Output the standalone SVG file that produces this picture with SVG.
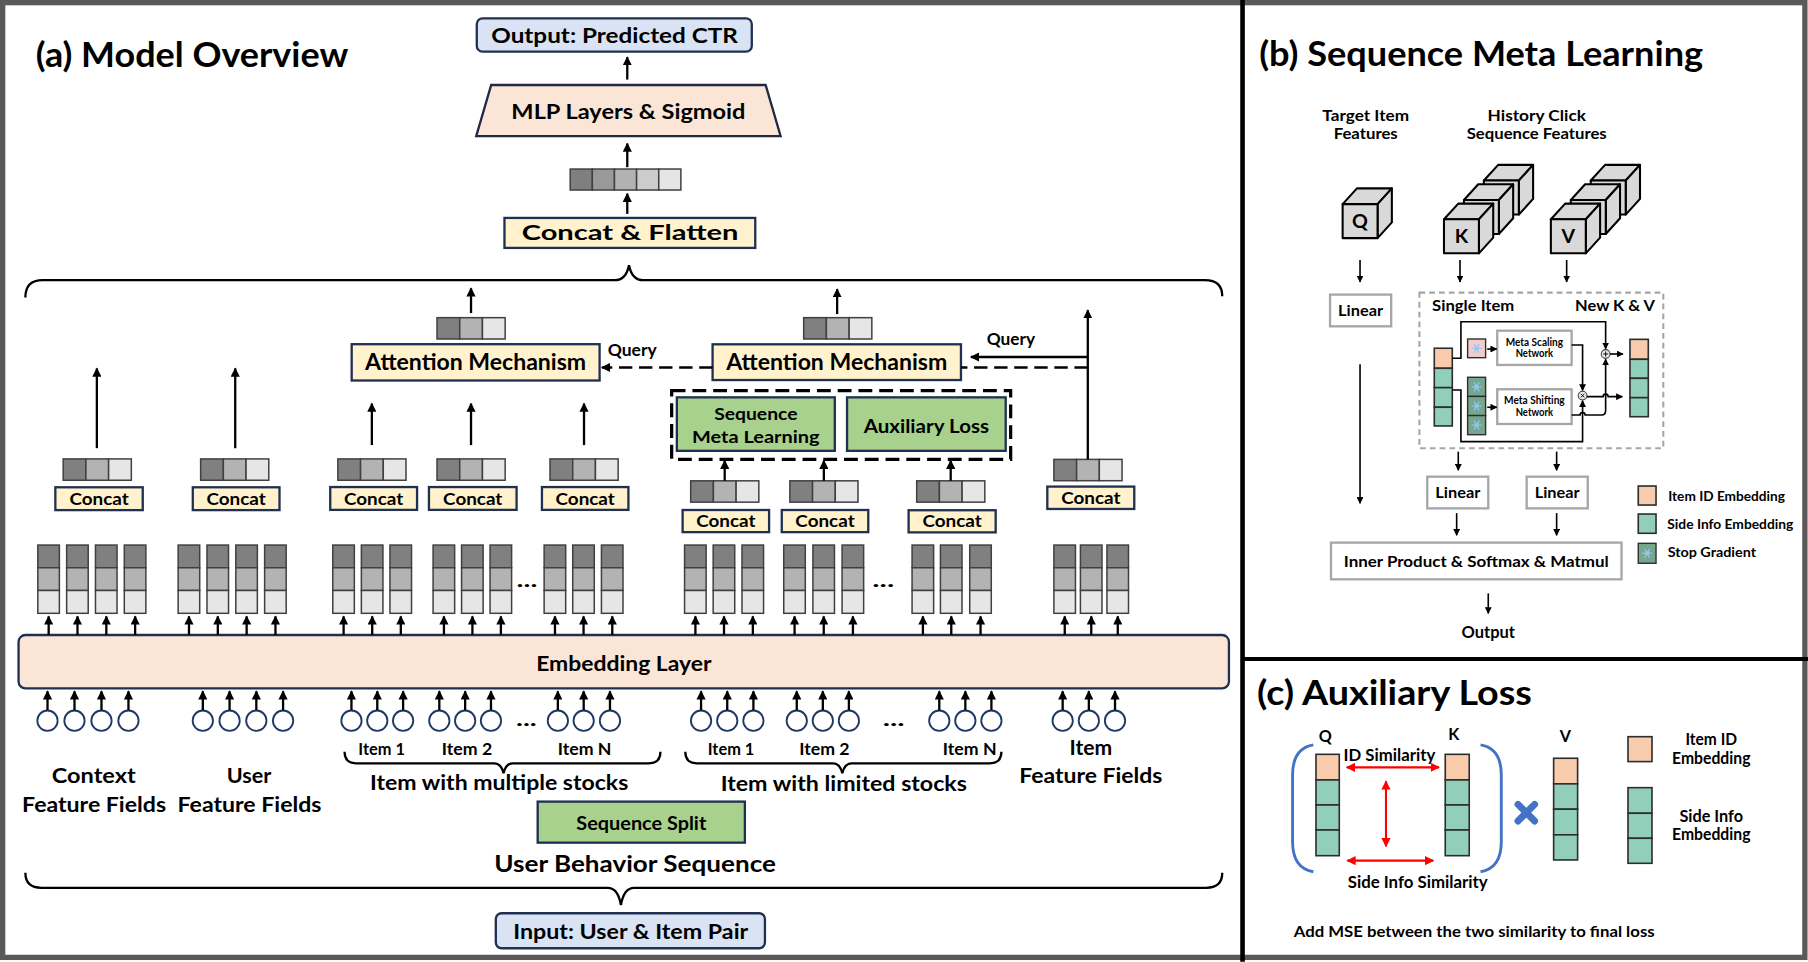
<svg xmlns="http://www.w3.org/2000/svg" xmlns:xlink="http://www.w3.org/1999/xlink" width="1808" height="962" viewBox="0 0 1808 962">
<style>
.t{font-family:Lato,"Open Sans","DejaVu Sans",sans-serif;font-weight:700;fill:#000;text-anchor:middle}
.ts{text-anchor:start}
.ln{stroke:#000;stroke-width:2;fill:none}
.lb{stroke:#000;stroke-width:1.4;fill:none}
.cc{fill:#fff2cc;stroke:#1f3050;stroke-width:2}
.gr{fill:#a9d18e;stroke:#1f3050;stroke-width:2}
.c1{fill:#808080;stroke:#404040;stroke-width:1.3}
.c2{fill:#b3b3b3;stroke:#404040;stroke-width:1.3}
.c3{fill:#e6e6e6;stroke:#404040;stroke-width:1.3}
.cir{fill:#fff;stroke:#1f3864;stroke-width:1.6}
.gb{fill:#fff;stroke:#a6a6a6;stroke-width:2}
.or{fill:#f8cbad;stroke:#2d2d2d;stroke-width:1.4}
.te{fill:#92cfbb;stroke:#2d2d2d;stroke-width:1.4}
.sg{fill:#76a68e;stroke:#2d2d2d;stroke-width:1.2}
.cube{fill:#d9d9d9;stroke:#000;stroke-width:1.8;stroke-linejoin:round}
.red{stroke:#ff0000;stroke-width:1.8;fill:none}
.up{stroke:#000;stroke-width:2;fill:none;marker-end:url(#ah)}
</style>
<defs>
<marker id="ah" viewBox="0 0 10 10" refX="9" refY="5" markerWidth="8" markerHeight="8" markerUnits="userSpaceOnUse" orient="auto"><path d="M0,0 L10,5 L0,10 z" fill="#000"/></marker>
<marker id="ahs" viewBox="0 0 10 10" refX="9" refY="5" markerWidth="6" markerHeight="6" markerUnits="userSpaceOnUse" orient="auto"><path d="M0,0 L10,5 L0,10 z" fill="#000"/></marker>
<marker id="ahr" viewBox="0 0 10 10" refX="9" refY="5" markerWidth="8" markerHeight="8" markerUnits="userSpaceOnUse" orient="auto-start-reverse"><path d="M0,0 L10,5 L0,10 z" fill="#ff0000"/></marker>
<g id="col"><rect class="c1" x="0" y="0" width="18.7" height="19.7"/><rect class="c2" x="0" y="19.7" width="18.7" height="19.7"/><rect class="c3" x="0" y="39.4" width="18.7" height="19.8"/></g>
<g id="v3"><rect class="c1" x="0" y="0" width="19.7" height="18.5"/><rect class="c2" x="19.7" y="0" width="19.7" height="18.5"/><rect class="c3" x="39.4" y="0" width="19.7" height="18.5"/></g>
<g id="cube"><polygon class="cube" points="0,0 12.4,-13.6 42.7,-13.6 30.3,0"/><polygon class="cube" points="30.3,0 42.7,-13.6 42.7,15.9 30.3,29.5"/><rect class="cube" x="0" y="0" width="30.3" height="29.5"/></g>
<g id="snow" stroke="#8fc9f2" stroke-width="1" fill="none"><line x1="-4.5" y1="0" x2="4.5" y2="0"/><line x1="-2.25" y1="-3.9" x2="2.25" y2="3.9"/><line x1="2.25" y1="-3.9" x2="-2.25" y2="3.9"/><circle r="1.4"/></g>
<path id="upE" d="M0 0 V-16.2"/>
</defs>
<rect x="0" y="0" width="1808" height="962" fill="#fff"/>
<g transform="scale(1.153061)">
<g id="frame">
<rect x="2.3" y="2.3" width="1563" height="828" fill="none" stroke="#595959" stroke-width="4.6"/>
<line x1="1077.6" y1="0" x2="1077.6" y2="834" stroke="#000" stroke-width="4"/>
<line x1="1077" y1="571.5" x2="1568" y2="571.5" stroke="#000" stroke-width="3.5"/>
</g>

<!-- ================= (a) ================= -->
<text class="t ts" x="31" y="57.8" font-size="30" textLength="271" lengthAdjust="spacingAndGlyphs">(a) Model Overview</text>

<g id="output">
<rect x="413.5" y="15.9" width="238.5" height="28.9" rx="5" fill="#dae3f3" stroke="#1f3050" stroke-width="2"/>
<text class="t" x="533" y="37" font-size="17.5" textLength="214" lengthAdjust="spacingAndGlyphs">Output: Predicted CTR</text>
</g>
<g id="mlp">
<polygon points="426,73.7 664,73.7 677,118 413,118" fill="#fbe5d6" stroke="#1f2a44" stroke-width="2"/>
<text class="t" x="545" y="103.5" font-size="18" textLength="203" lengthAdjust="spacingAndGlyphs">MLP Layers &amp; Sigmoid</text>
</g>
<g id="flat-vector">
<rect x="494.5" y="146.6" width="19.2" height="18.2" fill="#7f7f7f" stroke="#404040" stroke-width="1.3"/>
<rect x="513.7" y="146.6" width="19.2" height="18.2" fill="#999999" stroke="#404040" stroke-width="1.3"/>
<rect x="532.9" y="146.6" width="19.2" height="18.2" fill="#b2b2b2" stroke="#404040" stroke-width="1.3"/>
<rect x="552.1" y="146.6" width="19.2" height="18.2" fill="#cccccc" stroke="#404040" stroke-width="1.3"/>
<rect x="571.3" y="146.6" width="19.2" height="18.2" fill="#e5e5e5" stroke="#404040" stroke-width="1.3"/>
</g>
<g id="concat-flatten">
<rect class="cc" x="437.5" y="189" width="217.5" height="26"/>
<text class="t" x="546.5" y="208.5" font-size="18" textLength="188" lengthAdjust="spacingAndGlyphs">Concat &amp; Flatten</text>
</g>

<g id="attention-left">
<rect class="cc" x="305" y="298.5" width="215" height="31.5"/>
<text class="t" x="412.5" y="321" font-size="19" textLength="191.7" lengthAdjust="spacingAndGlyphs">Attention Mechanism</text>
</g>
<g id="attention-right">
<rect class="cc" x="618" y="298.6" width="215.4" height="31"/>
<text class="t" x="725.7" y="321" font-size="19" textLength="191.7" lengthAdjust="spacingAndGlyphs">Attention Mechanism</text>
</g>
<g id="attn-vectors">
<use href="#v3" x="379" y="275.5"/>
<use href="#v3" x="697" y="275.5"/>
</g>
<text class="t ts" x="527" y="308.8" font-size="14.5" textLength="42.5" lengthAdjust="spacingAndGlyphs">Query</text>
<text class="t ts" x="855.7" y="299.2" font-size="14.5" textLength="42" lengthAdjust="spacingAndGlyphs">Query</text>

<g id="meta-modules">
<rect x="582.5" y="338.8" width="294" height="59.5" fill="none" stroke="#000" stroke-width="2.8" stroke-dasharray="12 6"/>
<g id="seq-meta-learning">
<rect class="gr" x="587" y="344.6" width="137" height="46.4"/>
<text class="t" x="655.5" y="364.3" font-size="15.5" textLength="72.3" lengthAdjust="spacingAndGlyphs">Sequence</text>
<text class="t" x="655.5" y="384" font-size="15.5" textLength="110.7" lengthAdjust="spacingAndGlyphs">Meta Learning</text>
</g>
<g id="auxiliary-loss">
<rect class="gr" x="734.6" y="344.6" width="137.6" height="46.4"/>
<text class="t" x="803.4" y="375.3" font-size="16" textLength="108.7" lengthAdjust="spacingAndGlyphs">Auxiliary Loss</text>
</g>
</g>

<g id="concat-context"><use href="#v3" x="54.8" y="398"/><rect class="cc" x="48" y="422.6" width="75.8" height="19.8"/><text class="t" x="85.9" y="437.8" font-size="14.5" textLength="51.4" lengthAdjust="spacingAndGlyphs">Concat</text></g>
<g id="concat-user"><use href="#v3" x="174" y="398"/><rect class="cc" x="167.2" y="422.6" width="75.2" height="19.8"/><text class="t" x="204.8" y="437.8" font-size="14.5" textLength="51.4" lengthAdjust="spacingAndGlyphs">Concat</text></g>
<g id="concat-multi-1"><use href="#v3" x="293" y="398"/><rect class="cc" x="286.4" y="422.4" width="75.3" height="19.8"/><text class="t" x="324" y="437.6" font-size="14.5" textLength="51.4" lengthAdjust="spacingAndGlyphs">Concat</text></g>
<g id="concat-multi-2"><use href="#v3" x="379" y="398"/><rect class="cc" x="372" y="422.4" width="76" height="19.8"/><text class="t" x="410" y="437.6" font-size="14.5" textLength="51.4" lengthAdjust="spacingAndGlyphs">Concat</text></g>
<g id="concat-multi-n"><use href="#v3" x="477" y="398"/><rect class="cc" x="470" y="422.4" width="75" height="19.8"/><text class="t" x="507.5" y="437.6" font-size="14.5" textLength="51.4" lengthAdjust="spacingAndGlyphs">Concat</text></g>
<g id="concat-limited-1"><use href="#v3" x="599" y="417"/><rect class="cc" x="592" y="442.3" width="75" height="19.2"/><text class="t" x="629.5" y="457.2" font-size="14.5" textLength="51.4" lengthAdjust="spacingAndGlyphs">Concat</text></g>
<g id="concat-limited-2"><use href="#v3" x="685" y="417"/><rect class="cc" x="678" y="442.3" width="75" height="19.2"/><text class="t" x="715.5" y="457.2" font-size="14.5" textLength="51.4" lengthAdjust="spacingAndGlyphs">Concat</text></g>
<g id="concat-limited-n"><use href="#v3" x="795" y="417"/><rect class="cc" x="788" y="442.5" width="75.5" height="19.2"/><text class="t" x="825.7" y="457.4" font-size="14.5" textLength="51.4" lengthAdjust="spacingAndGlyphs">Concat</text></g>
<g id="concat-item"><use href="#v3" x="914" y="398.4"/><rect class="cc" x="908.3" y="422" width="75.4" height="19.4"/><text class="t" x="946" y="437" font-size="14.5" textLength="51.4" lengthAdjust="spacingAndGlyphs">Concat</text></g>

<g id="emb-columns">
<use href="#col" x="32.8" y="472.7"/><use href="#col" x="57.8" y="472.7"/><use href="#col" x="82.8" y="472.7"/><use href="#col" x="107.8" y="472.7"/>
<use href="#col" x="154.5" y="472.7"/><use href="#col" x="179.5" y="472.7"/><use href="#col" x="204.5" y="472.7"/><use href="#col" x="229.5" y="472.7"/>
<use href="#col" x="288.6" y="472.7"/><use href="#col" x="313.4" y="472.7"/><use href="#col" x="338.2" y="472.7"/>
<use href="#col" x="375.6" y="472.7"/><use href="#col" x="400.3" y="472.7"/><use href="#col" x="425" y="472.7"/>
<use href="#col" x="471.9" y="472.7"/><use href="#col" x="496.7" y="472.7"/><use href="#col" x="521.6" y="472.7"/>
<use href="#col" x="593.7" y="472.7"/><use href="#col" x="618.5" y="472.7"/><use href="#col" x="643.5" y="472.7"/>
<use href="#col" x="679.7" y="472.7"/><use href="#col" x="705" y="472.7"/><use href="#col" x="730.3" y="472.7"/>
<use href="#col" x="791" y="472.7"/><use href="#col" x="815.6" y="472.7"/><use href="#col" x="841" y="472.7"/>
<use href="#col" x="914" y="472.7"/><use href="#col" x="937" y="472.7"/><use href="#col" x="960" y="472.7"/>
</g>
<text class="t" x="457" y="509" font-size="16" textLength="18" lengthAdjust="spacingAndGlyphs">...</text>
<text class="t" x="766" y="509" font-size="16" textLength="19" lengthAdjust="spacingAndGlyphs">...</text>

<g id="embedding-layer">
<rect x="16.1" y="550.7" width="1049.7" height="46.3" rx="6" fill="#fbe5d6" stroke="#1f3050" stroke-width="2"/>
<text class="t" x="541" y="582" font-size="18" textLength="152" lengthAdjust="spacingAndGlyphs">Embedding Layer</text>
</g>

<g id="feature-circles">
<circle class="cir" cx="41.2" cy="625" r="8.8"/><circle class="cir" cx="64.6" cy="625" r="8.8"/><circle class="cir" cx="88" cy="625" r="8.8"/><circle class="cir" cx="111.4" cy="625" r="8.8"/>
<circle class="cir" cx="175.9" cy="625" r="8.8"/><circle class="cir" cx="199.1" cy="625" r="8.8"/><circle class="cir" cx="222.3" cy="625" r="8.8"/><circle class="cir" cx="245.5" cy="625" r="8.8"/>
<circle class="cir" cx="304.8" cy="625" r="8.8"/><circle class="cir" cx="327.2" cy="625" r="8.8"/><circle class="cir" cx="349.6" cy="625" r="8.8"/>
<circle class="cir" cx="381" cy="625" r="8.8"/><circle class="cir" cx="403.4" cy="625" r="8.8"/><circle class="cir" cx="425.8" cy="625" r="8.8"/>
<circle class="cir" cx="483.8" cy="625" r="8.8"/><circle class="cir" cx="506.2" cy="625" r="8.8"/><circle class="cir" cx="529" cy="625" r="8.8"/>
<circle class="cir" cx="608" cy="625" r="8.8"/><circle class="cir" cx="630.7" cy="625" r="8.8"/><circle class="cir" cx="653.4" cy="625" r="8.8"/>
<circle class="cir" cx="691" cy="625" r="8.8"/><circle class="cir" cx="713.6" cy="625" r="8.8"/><circle class="cir" cx="736.2" cy="625" r="8.8"/>
<circle class="cir" cx="814.6" cy="625" r="8.8"/><circle class="cir" cx="837.2" cy="625" r="8.8"/><circle class="cir" cx="859.8" cy="625" r="8.8"/>
<circle class="cir" cx="921.6" cy="625" r="8.8"/><circle class="cir" cx="944.3" cy="625" r="8.8"/><circle class="cir" cx="967" cy="625" r="8.8"/>
</g>
<text class="t" x="456.5" y="630" font-size="16" textLength="18" lengthAdjust="spacingAndGlyphs">...</text>
<text class="t" x="775" y="630" font-size="16" textLength="19" lengthAdjust="spacingAndGlyphs">...</text>

<g id="item-labels">
<text class="t" x="331" y="654.7" font-size="14.5" textLength="40.4" lengthAdjust="spacingAndGlyphs">Item 1</text>
<text class="t" x="405" y="654.7" font-size="14.5" textLength="43.7" lengthAdjust="spacingAndGlyphs">Item 2</text>
<text class="t" x="507" y="654.7" font-size="14.5" textLength="46.6" lengthAdjust="spacingAndGlyphs">Item N</text>
<text class="t" x="634" y="654.7" font-size="14.5" textLength="40.4" lengthAdjust="spacingAndGlyphs">Item 1</text>
<text class="t" x="715" y="654.7" font-size="14.5" textLength="43.7" lengthAdjust="spacingAndGlyphs">Item 2</text>
<text class="t" x="841" y="654.7" font-size="14.5" textLength="46.6" lengthAdjust="spacingAndGlyphs">Item N</text>
</g>
<g id="group-labels">
<text class="t" x="432.9" y="685" font-size="18" textLength="224" lengthAdjust="spacingAndGlyphs">Item with multiple stocks</text>
<text class="t" x="731.8" y="686" font-size="18" textLength="213.6" lengthAdjust="spacingAndGlyphs">Item with limited stocks</text>
<text class="t" x="81.3" y="679.3" font-size="18" textLength="72.8" lengthAdjust="spacingAndGlyphs">Context</text>
<text class="t" x="81.6" y="704" font-size="18" textLength="124.8" lengthAdjust="spacingAndGlyphs">Feature Fields</text>
<text class="t" x="216" y="679.3" font-size="18" textLength="38.7" lengthAdjust="spacingAndGlyphs">User</text>
<text class="t" x="216.4" y="704" font-size="18" textLength="124.8" lengthAdjust="spacingAndGlyphs">Feature Fields</text>
<text class="t" x="946" y="655" font-size="18" textLength="37" lengthAdjust="spacingAndGlyphs">Item</text>
<text class="t" x="946" y="679.3" font-size="18" textLength="124" lengthAdjust="spacingAndGlyphs">Feature Fields</text>
</g>

<g id="sequence-split">
<rect class="gr" x="466.3" y="695.2" width="179.7" height="35.6"/>
<text class="t" x="556.2" y="719.5" font-size="16" textLength="112.7" lengthAdjust="spacingAndGlyphs">Sequence Split</text>
</g>
<text class="t" x="550.8" y="756" font-size="20" textLength="244.3" lengthAdjust="spacingAndGlyphs">User Behavior Sequence</text>

<g id="input">
<rect x="430" y="792" width="233.4" height="30.4" rx="5" fill="#dae3f3" stroke="#1f3050" stroke-width="2"/>
<text class="t" x="547" y="814.5" font-size="18" textLength="203.8" lengthAdjust="spacingAndGlyphs">Input: User &amp; Item Pair</text>
</g>

<g id="connectors">
<path class="ln" d="M544 69 V49.5" marker-end="url(#ah)"/>
<path class="ln" d="M544 145 V124.5" marker-end="url(#ah)"/>
<path class="ln" d="M544 185.5 V168" marker-end="url(#ah)"/>
<path class="ln" d="M22 258 Q22 243 37 243 L533 243 Q543 243 545.5 230 Q548 243 558 243 L1045 243 Q1060 243 1060 257"/>
<path class="ln" d="M22 757 Q22 770 36 770 L527 770 Q536 770 538.5 785 Q541 770 550 770 L1046 770 Q1060 770 1060 757"/>
<path class="ln" stroke-width="1.8" d="M298.8 652 Q298.8 662 308.8 662 L428.7 662 Q434.7 662 436.7 670.6 Q438.7 662 444.7 662 L562.8 662 Q572.8 662 572.8 652"/>
<path class="ln" stroke-width="1.8" d="M594.3 652 Q594.3 662 604.3 662 L722.5 662 Q728.5 662 730.5 670.6 Q732.5 662 738.5 662 L858.5 662 Q868.5 662 868.5 652"/>
<path class="ln" d="M84 388.7 V319.5" marker-end="url(#ah)"/>
<path class="ln" d="M204 388.7 V319.5" marker-end="url(#ah)"/>
<path class="ln" d="M408.5 271.5 V250" marker-end="url(#ah)"/>
<path class="ln" d="M726 272.4 V250.8" marker-end="url(#ah)"/>
<path class="ln" d="M322.5 386 V350" marker-end="url(#ah)"/>
<path class="ln" d="M408.5 386 V350" marker-end="url(#ah)"/>
<path class="ln" d="M506.5 386 V350" marker-end="url(#ah)"/>
<path class="ln" d="M628.5 417 V399.5" marker-end="url(#ah)"/>
<path class="ln" d="M714.5 417 V399.5" marker-end="url(#ah)"/>
<path class="ln" d="M824.5 417 V399.5" marker-end="url(#ah)"/>
<path class="ln" d="M943.4 398.4 V269" marker-end="url(#ah)"/>
<path class="ln" d="M943.4 309.6 H842" marker-end="url(#ah)"/>
<path class="ln" stroke-width="2.3" stroke-dasharray="11.6 5.8" d="M943.4 318.7 H833.4"/>
<path class="ln" stroke-width="2.3" stroke-dasharray="11.6 5.8" d="M618 318.7 H522" marker-end="url(#ah)"/>
<g id="emb-arrows">
<path class="up" d="M42.2 550.7V534.5"/><path class="up" d="M67.2 550.7V534.5"/><path class="up" d="M92.2 550.7V534.5"/><path class="up" d="M117.2 550.7V534.5"/>
<path class="up" d="M163.9 550.7V534.5"/><path class="up" d="M188.9 550.7V534.5"/><path class="up" d="M213.9 550.7V534.5"/><path class="up" d="M238.9 550.7V534.5"/>
<path class="up" d="M298 550.7V534.5"/><path class="up" d="M322.8 550.7V534.5"/><path class="up" d="M347.6 550.7V534.5"/>
<path class="up" d="M385 550.7V534.5"/><path class="up" d="M409.7 550.7V534.5"/><path class="up" d="M434.4 550.7V534.5"/>
<path class="up" d="M481.3 550.7V534.5"/><path class="up" d="M506.1 550.7V534.5"/><path class="up" d="M531 550.7V534.5"/>
<path class="up" d="M603.1 550.7V534.5"/><path class="up" d="M627.9 550.7V534.5"/><path class="up" d="M652.9 550.7V534.5"/>
<path class="up" d="M689.1 550.7V534.5"/><path class="up" d="M714.4 550.7V534.5"/><path class="up" d="M739.7 550.7V534.5"/>
<path class="up" d="M800.4 550.7V534.5"/><path class="up" d="M825 550.7V534.5"/><path class="up" d="M850.4 550.7V534.5"/>
<path class="up" d="M923.4 550.7V534.5"/><path class="up" d="M946.4 550.7V534.5"/><path class="up" d="M969.4 550.7V534.5"/>
</g>
<g id="input-arrows">
<path class="up" d="M41.2 616V599.5"/><path class="up" d="M64.6 616V599.5"/><path class="up" d="M88 616V599.5"/><path class="up" d="M111.4 616V599.5"/>
<path class="up" d="M175.9 616V599.5"/><path class="up" d="M199.1 616V599.5"/><path class="up" d="M222.3 616V599.5"/><path class="up" d="M245.5 616V599.5"/>
<path class="up" d="M304.8 616V599.5"/><path class="up" d="M327.2 616V599.5"/><path class="up" d="M349.6 616V599.5"/>
<path class="up" d="M381 616V599.5"/><path class="up" d="M403.4 616V599.5"/><path class="up" d="M425.8 616V599.5"/>
<path class="up" d="M483.8 616V599.5"/><path class="up" d="M506.2 616V599.5"/><path class="up" d="M529 616V599.5"/>
<path class="up" d="M608 616V599.5"/><path class="up" d="M630.7 616V599.5"/><path class="up" d="M653.4 616V599.5"/>
<path class="up" d="M691 616V599.5"/><path class="up" d="M713.6 616V599.5"/><path class="up" d="M736.2 616V599.5"/>
<path class="up" d="M814.6 616V599.5"/><path class="up" d="M837.2 616V599.5"/><path class="up" d="M859.8 616V599.5"/>
<path class="up" d="M921.6 616V599.5"/><path class="up" d="M944.3 616V599.5"/><path class="up" d="M967 616V599.5"/>
</g>
</g>

<!-- ================= (b) ================= -->
<text class="t ts" x="1092" y="57" font-size="30" textLength="385" lengthAdjust="spacingAndGlyphs">(b) Sequence Meta Learning</text>
<g id="b-labels">
<text class="t" x="1184.4" y="104.7" font-size="13" textLength="75.2" lengthAdjust="spacingAndGlyphs">Target Item</text>
<text class="t" x="1184.4" y="120.8" font-size="13" textLength="55.5" lengthAdjust="spacingAndGlyphs">Features</text>
<text class="t" x="1332.8" y="104.7" font-size="13" textLength="85.3" lengthAdjust="spacingAndGlyphs">History Click</text>
<text class="t" x="1332.7" y="120.8" font-size="13" textLength="121.4" lengthAdjust="spacingAndGlyphs">Sequence Features</text>
</g>
<g id="cube-q">
<use href="#cube" x="1164.4" y="177"/>
<text class="t" x="1179.5" y="198" font-size="17">Q</text>
</g>
<g id="cube-k">
<use href="#cube" x="1286.9" y="156.6"/><use href="#cube" x="1269.6" y="173.4"/><use href="#cube" x="1252.3" y="190.2"/>
<text class="t" x="1267.5" y="211" font-size="17">K</text>
</g>
<g id="cube-v">
<use href="#cube" x="1379.6" y="156.6"/><use href="#cube" x="1362.3" y="173.4"/><use href="#cube" x="1345" y="190.2"/>
<text class="t" x="1360.2" y="211" font-size="17">V</text>
</g>
<g id="linear-q">
<rect class="gb" x="1153.5" y="255.5" width="53" height="27.5"/>
<text class="t" x="1180" y="274" font-size="13.5" textLength="39" lengthAdjust="spacingAndGlyphs">Linear</text>
</g>
<g id="meta-block">
<rect x="1231" y="253.8" width="211.5" height="135" fill="none" stroke="#a6a6a6" stroke-width="1.8" stroke-dasharray="5 3.5"/>
<text class="t ts" x="1242" y="269.4" font-size="13.5" textLength="71.3" lengthAdjust="spacingAndGlyphs">Single Item</text>
<text class="t ts" x="1366" y="269.4" font-size="13.5" textLength="69.3" lengthAdjust="spacingAndGlyphs">New K &amp; V</text>
<g id="single-emb">
<rect class="or" x="1243.9" y="302" width="15.6" height="17.4"/>
<rect class="te" x="1243.9" y="319.4" width="15.6" height="16.8"/>
<rect class="te" x="1243.9" y="336.2" width="15.6" height="17"/>
<rect class="te" x="1243.9" y="353.2" width="15.6" height="16.2"/>
</g>
<g id="new-emb">
<rect class="or" x="1413.6" y="294.3" width="15.9" height="17.3"/>
<rect class="te" x="1413.6" y="311.6" width="15.9" height="16.5"/>
<rect class="te" x="1413.6" y="328.1" width="15.9" height="16.8"/>
<rect class="te" x="1413.6" y="344.9" width="15.9" height="16.5"/>
</g>
<g id="sg-id">
<rect x="1272.8" y="294" width="15.6" height="16.2" fill="#f4cccc" stroke="#2d2d2d" stroke-width="1.2"/>
<use href="#snow" x="1280.6" y="302.1"/>
</g>
<g id="sg-side">
<rect class="sg" x="1272.8" y="327.2" width="15.6" height="16.6"/>
<rect class="sg" x="1272.8" y="343.8" width="15.6" height="16.6"/>
<rect class="sg" x="1272.8" y="360.4" width="15.6" height="16.6"/>
<use href="#snow" x="1280.6" y="335.5"/><use href="#snow" x="1280.6" y="352.1"/><use href="#snow" x="1280.6" y="368.7"/>
</g>
<g id="meta-scaling">
<rect class="gb" stroke-width="1.7" x="1298.5" y="286.8" width="64.5" height="29.7"/>
<text class="t" x="1330.7" y="299.8" font-size="9.5" textLength="49.7" lengthAdjust="spacingAndGlyphs">Meta Scaling</text>
<text class="t" x="1330.7" y="309.9" font-size="9.5" textLength="32.4" lengthAdjust="spacingAndGlyphs">Network</text>
</g>
<g id="meta-shifting">
<rect class="gb" stroke-width="1.7" x="1298.5" y="337.6" width="64.5" height="30.1"/>
<text class="t" x="1330.7" y="350.4" font-size="9.5" textLength="52.6" lengthAdjust="spacingAndGlyphs">Meta Shifting</text>
<text class="t" x="1330.7" y="360.8" font-size="9.5" textLength="32.4" lengthAdjust="spacingAndGlyphs">Network</text>
</g>
<g id="op-plus">
<circle cx="1392.5" cy="307" r="3.8" fill="#e7e6e6" stroke="#404040" stroke-width="0.9"/>
<path d="M1390.3 307H1394.7M1392.5 304.8V309.2" stroke="#000" stroke-width="0.8"/>
</g>
<g id="op-times">
<circle cx="1372.5" cy="343.1" r="3.8" fill="#e7e6e6" stroke="#404040" stroke-width="0.9"/>
<path d="M1371 341.6L1374 344.6M1374 341.6L1371 344.6" stroke="#000" stroke-width="0.8"/>
</g>
<g id="meta-connectors">
<path class="lb" d="M1259.5 310.7 H1267 V279 H1392.5 V302.5" marker-end="url(#ahs)"/>
<path class="lb" d="M1289.8 302.7 H1298" marker-end="url(#ahs)"/>
<path class="lb" d="M1363 299.2 H1372.5 V338.6" marker-end="url(#ahs)"/>
<path class="lb" d="M1289.8 353.2 H1298" marker-end="url(#ahs)"/>
<path class="lb" d="M1259.5 338.2 H1267 V383 H1372.5 V347.6" marker-end="url(#ahs)"/>
<path class="lb" d="M1376.3 344 H1390.3 A2.2 2.2 0 0 1 1394.7 344 H1407" marker-end="url(#ahs)"/>
<path class="lb" d="M1363 359.9 H1370.3 A2.2 2.2 0 0 1 1374.7 359.9 H1389 Q1392.5 359.9 1392.5 356 V311.5" marker-end="url(#ahs)"/>
<path class="lb" d="M1396.3 307 H1407.5" marker-end="url(#ahs)"/>
</g>
</g>
<g id="linear-k">
<rect class="gb" x="1237.8" y="413.4" width="52.9" height="27.5"/>
<text class="t" x="1264.3" y="432" font-size="13.5" textLength="39" lengthAdjust="spacingAndGlyphs">Linear</text>
</g>
<g id="linear-v">
<rect class="gb" x="1324" y="413.4" width="53" height="27.5"/>
<text class="t" x="1350.5" y="432" font-size="13.5" textLength="39" lengthAdjust="spacingAndGlyphs">Linear</text>
</g>
<g id="inner-product">
<rect class="gb" x="1154.3" y="470.6" width="252" height="31.8"/>
<text class="t" x="1280.3" y="491.4" font-size="13.5" textLength="229.8" lengthAdjust="spacingAndGlyphs">Inner Product &amp; Softmax &amp; Matmul</text>
</g>
<text class="t" x="1290.7" y="553.6" font-size="14" textLength="46.3" lengthAdjust="spacingAndGlyphs">Output</text>
<g id="b-connectors">
<path class="lb" d="M1179.5 225.5 V244.5" marker-end="url(#ahs)"/>
<path class="lb" d="M1266.2 225.5 V244.5" marker-end="url(#ahs)"/>
<path class="lb" d="M1358.7 225.5 V244.5" marker-end="url(#ahs)"/>
<path class="lb" d="M1179.5 316 V436.5" marker-end="url(#ahs)"/>
<path class="lb" d="M1264.7 391.7 V407.8" marker-end="url(#ahs)"/>
<path class="lb" d="M1350 391.7 V407.8" marker-end="url(#ahs)"/>
<path class="lb" d="M1263.3 445 V464.2" marker-end="url(#ahs)"/>
<path class="lb" d="M1350 445 V464.2" marker-end="url(#ahs)"/>
<path class="lb" d="M1290.7 514.6 V532" marker-end="url(#ahs)"/>
</g>
<g id="b-legend">
<rect class="or" x="1420.8" y="421.5" width="15.4" height="16.5"/>
<text class="t ts" x="1446.8" y="434.5" font-size="12" textLength="101.2" lengthAdjust="spacingAndGlyphs">Item ID Embedding</text>
<rect class="te" x="1420.8" y="445.8" width="15.4" height="16.7"/>
<text class="t ts" x="1446" y="459" font-size="12" textLength="109.3" lengthAdjust="spacingAndGlyphs">Side Info Embedding</text>
<rect class="sg" x="1420.8" y="471.2" width="15.4" height="17.3"/>
<use href="#snow" x="1428.5" y="479.8"/>
<text class="t ts" x="1446.3" y="483.3" font-size="12" textLength="76.6" lengthAdjust="spacingAndGlyphs">Stop Gradient</text>
</g>

<!-- ================= (c) ================= -->
<text class="t ts" x="1090.1" y="611.4" font-size="30" textLength="238.5" lengthAdjust="spacingAndGlyphs">(c) Auxiliary Loss</text>
<g id="c-q">
<text class="t" x="1149.4" y="643.2" font-size="14">Q</text>
<rect class="or" x="1141.3" y="654.2" width="20.2" height="22.2"/>
<rect class="te" x="1141.3" y="676.4" width="20.2" height="21.7"/>
<rect class="te" x="1141.3" y="698.1" width="20.2" height="21.7"/>
<rect class="te" x="1141.3" y="719.8" width="20.2" height="22.3"/>
</g>
<g id="c-k">
<text class="t" x="1260.7" y="641.8" font-size="14">K</text>
<rect class="or" x="1253.4" y="654.2" width="20.8" height="22.2"/>
<rect class="te" x="1253.4" y="676.4" width="20.8" height="21.7"/>
<rect class="te" x="1253.4" y="698.1" width="20.8" height="21.7"/>
<rect class="te" x="1253.4" y="719.8" width="20.8" height="22.3"/>
</g>
<g id="c-v">
<text class="t" x="1357.5" y="643.2" font-size="14">V</text>
<rect class="or" x="1347.4" y="657.6" width="20.8" height="22.2"/>
<rect class="te" x="1347.4" y="679.8" width="20.8" height="22"/>
<rect class="te" x="1347.4" y="701.8" width="20.8" height="22.2"/>
<rect class="te" x="1347.4" y="724" width="20.8" height="21.8"/>
</g>
<g id="c-brackets">
<path d="M1139 646 Q1121 649 1121 672 L1121 730 Q1121 753 1139 756" fill="none" stroke="#4472c4" stroke-width="2.5"/>
<path d="M1284 646 Q1302 649 1302 672 L1302 730 Q1302 753 1284 756" fill="none" stroke="#4472c4" stroke-width="2.5"/>
</g>
<g id="c-similarity">
<text class="t" x="1205" y="659.7" font-size="14.5" textLength="79.5" lengthAdjust="spacingAndGlyphs">ID Similarity</text>
<path class="red" d="M1168 665.5 H1248" marker-start="url(#ahr)" marker-end="url(#ahr)"/>
<path class="red" d="M1202 677.5 V734" marker-start="url(#ahr)" marker-end="url(#ahr)"/>
<path class="red" d="M1168.5 746.4 H1243" marker-start="url(#ahr)" marker-end="url(#ahr)"/>
<text class="t" x="1229.5" y="770.4" font-size="14.5" textLength="121.4" lengthAdjust="spacingAndGlyphs">Side Info Similarity</text>
</g>
<g id="c-times">
<path d="M1316.5 697.6 L1330.9 712 M1330.9 697.6 L1316.5 712" stroke="#4472c4" stroke-width="6" stroke-linecap="round"/>
</g>
<g id="c-legend">
<rect class="or" x="1411.9" y="638.9" width="20.8" height="21.6"/>
<text class="t" x="1484.1" y="646" font-size="14.5" textLength="44.8" lengthAdjust="spacingAndGlyphs">Item ID</text>
<text class="t" x="1484.1" y="662.6" font-size="14.5" textLength="68" lengthAdjust="spacingAndGlyphs">Embedding</text>
<rect class="te" x="1411.9" y="683.1" width="20.8" height="22.2"/>
<rect class="te" x="1411.9" y="705.3" width="20.8" height="21.7"/>
<rect class="te" x="1411.9" y="727" width="20.8" height="21.7"/>
<text class="t" x="1484.1" y="712.6" font-size="14.5" textLength="55.2" lengthAdjust="spacingAndGlyphs">Side Info</text>
<text class="t" x="1484.1" y="728.5" font-size="14.5" textLength="68" lengthAdjust="spacingAndGlyphs">Embedding</text>
</g>
<text class="t" x="1278.5" y="812.9" font-size="13.5" textLength="313" lengthAdjust="spacingAndGlyphs">Add MSE between the two similarity to final loss</text>
</g>
</svg>
